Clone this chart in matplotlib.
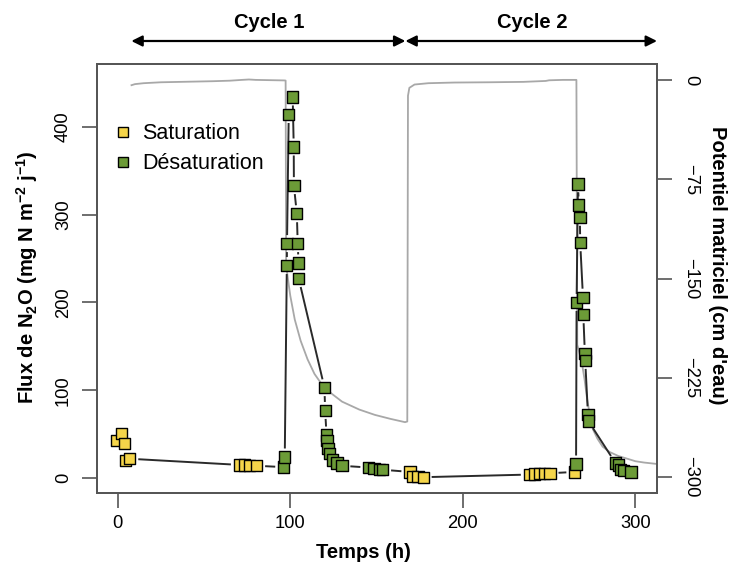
import numpy as np
import matplotlib
matplotlib.use("Agg")
import matplotlib.pyplot as plt
from matplotlib.collections import LineCollection
from matplotlib.lines import Line2D

plt.rcParams['font.family'] = ['Liberation Sans', 'DejaVu Sans']
plt.rcParams['mathtext.fontset'] = 'custom'
plt.rcParams['mathtext.rm'] = 'Liberation Sans'
plt.rcParams['mathtext.bf'] = 'Liberation Sans:bold'

# ---- N2O flux data (time h, flux mg N m-2 j-1, phase) ----
flux_t = [-0.5, 2.3, 4.1, 4.6, 7.0,
          70.5, 73.5, 76.5, 80.5,
          96.2, 96.8,
          98.0, 98.1, 99.1, 101.4, 102.0, 102.1, 103.8, 104.3, 104.8, 104.9,
          119.8, 120.2, 121.0, 121.3, 121.8, 122.9, 124.6, 127.0, 129.9,
          145.5, 148.5, 151.5, 153.5,
          169.3, 171.0, 174.0, 177.0,
          238.5, 241.5, 244.5, 247.5, 250.5,
          264.9,
          265.6, 265.9, 266.7, 267.2, 267.8, 268.0, 269.6, 269.8, 270.7, 270.9, 272.5, 272.7,
          288.5, 290.0, 291.5, 293.0, 297.4]
flux_v = [43, 51, 39, 20, 22,
          15, 15, 14, 14,
          12.5, 24,
          242, 267, 414, 434, 377, 333, 301, 267, 245, 227,
          103, 77, 49, 43, 34, 28, 20.5, 17, 14,
          12, 11, 10, 9.5,
          7, 2, 1.5, 1,
          4, 4.5, 5, 5, 5.5,
          7,
          16, 200, 335, 311, 297, 268, 206, 186, 142, 134, 72, 65,
          17, 15, 10, 9, 7]
flux_phase = (['S'] * 5 + ['S'] * 4 + ['D'] * 2 + ['D'] * 10 + ['D'] * 9 + ['D'] * 4 +
              ['S'] * 4 + ['S'] * 5 + ['S'] + ['D'] * 12 + ['D'] * 5)

# ---- Matric potential (grey line) ----
pot_t = [8, 10, 15, 25, 40, 55, 65, 72, 76, 80, 88, 96.5, 97.3,
         97.6, 98.6, 100, 102.6, 106, 110, 114, 118.3, 124, 130, 140, 149, 158, 166.5,
         167.8, 168.2, 169, 172, 180, 195, 215, 235, 248, 250, 258, 265.8,
         266.3, 267.5, 269, 270.5, 272, 273.7, 275.4, 278, 281, 285, 290, 295, 300, 305, 312]
pot_v = [-4, -3.2, -2.5, -1.8, -1.4, -1.0, -0.6, 0, 0.3, 0, -0.2, -0.4, -0.5,
         -140, -150, -163, -181, -197, -211, -222, -230, -237, -243, -249, -253, -256, -258.5,
         -258, -12, -6, -3.5, -2.5, -2, -1.8, -1.5, -0.8, -0.3, 0, 0,
         -200, -206, -214, -226, -241, -254, -264, -271, -277, -281, -284, -286, -288, -289, -290]

legend_labels = ['Saturation', 'Désaturation']
colors = {'S': '#F5D54A', 'D': '#6C9B37'}

W, H = 745, 568
fig = plt.figure(figsize=(W / 100, H / 100), dpi=100)
L, R, T, B = 97, 657, 64, 493
ax = fig.add_axes([L / W, 1 - B / H, (R - L) / W, (B - T) / H])
ax2 = ax.twinx()
ax.set_zorder(ax2.get_zorder() + 1)
ax.patch.set_visible(False)

ax.set_xlim(-12, 312.5)
ax.set_ylim(-17, 471.5)
ax2.set_ylim(-312, 12)

ax2.plot(pot_t, pot_v, color='#A8A8A8', lw=1.3, zorder=1)

# lines with gaps around points (R type="b")
pts = ax.transData.transform(np.column_stack([flux_t, flux_v]))
gap = 8.5
segs = []
for i in range(len(pts) - 1):
    p0, p1 = pts[i], pts[i + 1]
    d = p1 - p0
    Ln = np.hypot(*d)
    if Ln > 2 * gap + 1.5:
        u = d / Ln
        a = ax.transData.inverted().transform(p0 + u * gap)
        b = ax.transData.inverted().transform(p1 - u * gap)
        segs.append([a, b])
ax.add_collection(LineCollection(segs, colors='#2a2a2a', linewidths=1.4, zorder=2))

cols = [colors[p] for p in flux_phase]
ax.scatter(flux_t, flux_v, marker='s', s=66, c=cols, edgecolors='black', linewidths=1.0, zorder=3)

# axes styling
spc = '#555555'
for a in (ax, ax2):
    for s in a.spines.values():
        s.set_color(spc)
        s.set_linewidth(1.3)
ax.set_xticks([0, 100, 200, 300])
ax.set_yticks([0, 100, 200, 300, 400])
ax2.set_yticks([0, -75, -150, -225, -300])
ax2.set_yticklabels(['0', '\u221275', '\u2212150', '\u2212225', '\u2212300'])
ax.tick_params(axis='both', length=11, width=1.2, color=spc, labelsize=13.2, pad=5)
ax.tick_params(axis='y', pad=7)
ax2.tick_params(axis='y', length=11, width=1.2, color=spc, labelsize=13.2, pad=7)
for lab in ax.get_yticklabels():
    lab.set_rotation(90)
    lab.set_va('center')
for lab in ax2.get_yticklabels():
    lab.set_rotation(-90)
    lab.set_va('center')

# labels
fig.text(363 / W, 1 - 553 / H, 'Temps (h)', ha='center', va='center', fontsize=14.5, fontweight='bold')
fig.text(27 / W, 1 - 277 / H, r'Flux de N$\mathbf{_2}$O (mg N m$\mathbf{^{-2}}$ j$\mathbf{^{-1}}$)',
         ha='center', va='center', rotation=90, fontsize=14.5, fontweight='bold')
fig.text(718 / W, 1 - 265 / H, "Potentiel matriciel (cm d'eau)", ha='center', va='center',
         rotation=-90, fontsize=14.5, fontweight='bold')

# legend
handles = [Line2D([], [], marker='s', ls='none', ms=7, mfc=colors[k], mec='black', mew=1.0) for k in ('S', 'D')]
ax.legend(handles, legend_labels, loc='upper left', bbox_to_anchor=(0.031, 0.862), frameon=False,
          fontsize=15.5, handlelength=0.8, handletextpad=0.5, labelspacing=0.42, borderpad=0, borderaxespad=0)

# cycle arrows
arrow_y = (B - 41) / (B - T)
text_y = (B - 22) / (B - T)
cycle_start = [7.9, 166.7]
cycle_end = [166.7, 312.5]
cycle_names = ['Cycle 1', 'Cycle 2']
for s0, s1, nm in zip(cycle_start, cycle_end, cycle_names):
    ax.annotate('', xy=(s1, arrow_y), xytext=(s0, arrow_y), xycoords=('data', 'axes fraction'),
                textcoords=('data', 'axes fraction'), annotation_clip=False,
                arrowprops=dict(arrowstyle='<|-|>', color='black', lw=1.6, mutation_scale=16,
                                shrinkA=0, shrinkB=0))
    ax.text((s0 + s1) / 2 + 0.5, text_y, nm, transform=ax.get_xaxis_transform(), ha='center',
            va='center', fontsize=14.5, fontweight='bold', clip_on=False)

fig.savefig('out.png', dpi=100)
